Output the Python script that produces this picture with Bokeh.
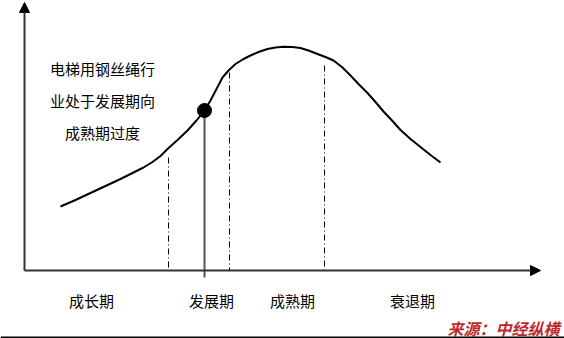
from bokeh.plotting import figure
from bokeh.models import Range1d, Arrow, NormalHead
from bokeh.core.properties import value
from bokeh.embed import file_html
from bokeh.resources import INLINE

# Lifecycle curve (pixel-like units, y downward)
curve_x = [60, 75, 90, 105, 120, 133, 143, 152, 160, 167, 177, 187, 196, 204, 210, 216,
           222, 228, 235, 243, 250, 258, 267, 275, 283, 292, 300, 308, 317, 325, 333,
           342, 350, 358, 367, 375, 383, 392, 400, 410, 420, 430, 440]
curve_y = [206, 199.5, 192.5, 185.5, 178.5, 172, 167, 161.5, 155.5, 148.5, 139.5, 130, 120, 110, 100, 88.5,
           77, 70, 63.5, 58.5, 55, 51.5, 48.5, 47, 46.3, 46.5, 47.5, 50, 53.5, 56.5, 60,
           67, 75, 83.5, 92.5, 101.5, 111, 120.5, 129.5, 138.5, 146.5, 154.5, 162]

# Stage boundaries (dash-dot lines): x, top y
bound_x = [168, 229, 324]
bound_top = [157, 72, 65]
axis_y = 270
axis_x0 = 24

# Current position
dot_x = [204]
dot_y = [110]

stage_labels = ["成长期", "发展期", "成熟期", "衰退期"]
stage_x = [91, 211, 292, 412]

note_lines = ["电梯用钢丝绳行", "业处于发展期向", "成熟期过度"]
note_y = [68, 100, 132]
note_x = 102

source_text = "来源：中经纵横"

FONT = "Noto Sans CJK SC"

p = figure(width=564, height=338, x_range=Range1d(0, 564), y_range=Range1d(338, 0),
           output_backend="svg", toolbar_location=None, min_border=0)
p.axis.visible = False
p.grid.visible = False
p.outline_line_color = None
p.background_fill_color = "white"
p.border_fill_color = "white"

# axes with arrows
p.add_layout(Arrow(end=NormalHead(size=10, fill_color="black", line_color="black"),
                   x_start=axis_x0, y_start=axis_y, x_end=axis_x0, y_end=2,
                   line_color="#333333", line_width=2))
p.add_layout(Arrow(end=NormalHead(size=10, fill_color="black", line_color="black"),
                   x_start=axis_x0, y_start=axis_y, x_end=540, y_end=axis_y,
                   line_color="#333333", line_width=2))

# boundaries
p.segment(x0=bound_x, y0=bound_top, x1=bound_x, y1=[axis_y] * len(bound_x),
          line_color="black", line_width=1, line_dash="6 3 1 3")

# current position vertical line
p.segment(x0=dot_x, y0=dot_y, x1=dot_x, y1=[277], line_color="#555555", line_width=2)

# curve
p.line(curve_x, curve_y, line_color="black", line_width=2, line_join="round")

# dot
p.scatter(dot_x, dot_y, size=14, color="black")

# stage labels
p.text(x=stage_x, y=[300] * 4, text=stage_labels, text_font=value(FONT),
       text_font_size="15px", text_align="center", text_baseline="middle", text_color="black")

# note
p.text(x=[note_x] * 3, y=note_y, text=note_lines, text_font=value(FONT),
       text_font_size="15px", text_align="center", text_baseline="middle", text_color="black")

# source
p.text(x=[559], y=[327], text=[source_text], text_font=value(FONT),
       text_font_size="16px", text_font_style="bold italic", text_align="right",
       text_baseline="middle", text_color="#c0282d")

# bottom rule
p.segment(x0=[0], y0=[337], x1=[564], y1=[337], line_color="black", line_width=2)

open("out.html", "w").write(file_html(p, INLINE))
